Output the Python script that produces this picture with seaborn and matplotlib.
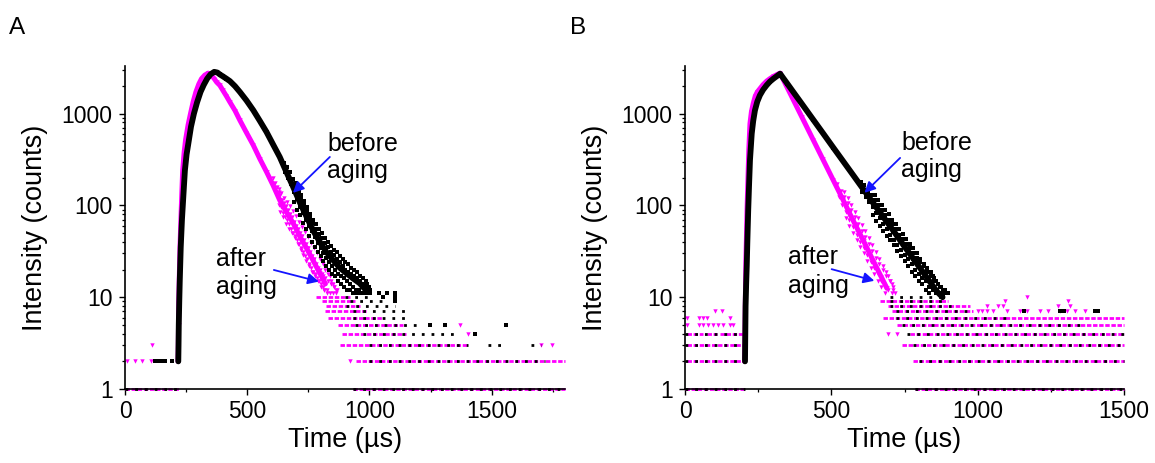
import matplotlib
matplotlib.use("Agg")
import matplotlib.pyplot as plt
import numpy as np
import pandas as pd
import seaborn as sns
from matplotlib.ticker import FixedLocator, MultipleLocator, LogLocator, FuncFormatter, NullFormatter

# ---------------- Panel A data ----------------
a_before_t = [218, 219, 220, 222, 224, 228, 233, 239, 245, 252, 259, 270, 282, 295, 309, 322, 336, 350, 365,
              378, 388, 400, 415, 429, 450, 470, 497, 525, 552, 579, 606, 633, 660, 688, 715, 743, 770, 797,
              824, 851, 878, 906, 933, 960, 985]
a_before_i = [2, 3, 5, 9, 15, 35, 70, 130, 240, 360, 470, 720, 1000, 1330, 1720, 2050, 2400, 2680, 2850,
              2800, 2670, 2550, 2400, 2260, 1990, 1720, 1390, 1086, 830, 630, 460, 337, 232, 159, 108, 75, 53, 40,
              31, 25.4, 21, 18.2, 16, 14.2, 12]
a_before_noise_t = [650, 656, 662, 668, 674, 680, 686, 692, 698, 704, 710, 716, 722, 728, 734, 740, 746, 752,
                    758, 764, 770, 776, 782, 788, 794, 800, 806, 812, 818, 824, 830, 836, 842, 848, 854, 860,
                    866, 872, 878, 884, 890, 896, 902, 908, 914, 920, 926, 932, 938, 944, 950, 956, 962, 968,
                    974, 980, 986, 992, 998, 1004, 1040, 1070, 1104]
a_before_noise_i = [290, 230, 260, 200, 230, 170, 195, 140, 165, 118, 140, 95, 118, 82, 100, 70, 86, 60,
                    75, 52, 65, 45, 56, 39, 49, 34, 44, 30, 39, 27, 35, 24, 31, 22, 29, 20,
                    26, 18, 24, 17, 22, 16, 20, 15, 19, 14, 18, 13, 17, 12, 16, 12, 15, 11,
                    14, 11, 13, 11, 12, 11, 11, 11, 11]
a_before_spread_t = [692, 698, 704, 710, 716, 722, 728, 734, 740, 746, 752,
                     758, 764, 770, 776, 782, 788, 794, 800, 806, 812, 818, 824, 830, 836, 842, 848, 854, 860,
                     866, 872, 878, 884, 890, 896, 902, 908, 914, 920, 926, 932, 938, 944, 950, 956, 962, 968,
                     974, 980, 986, 992, 998, 1004]
a_before_spread_i = [110, 175, 90, 150, 78, 130, 65, 112, 56, 95, 47,
                     80, 40, 70, 35, 62, 31, 55, 28, 50, 25, 44, 22, 40, 20, 36, 18, 33, 17,
                     31, 15, 28, 14, 26, 13, 24, 12, 23, 12, 21, 11, 20, 11, 19, 11, 17, 11,
                     16, 11, 15, 14, 13, 12]
a_before_pts_t = [123, 136, 150, 163, 191, 1247, 1308, 1560, 1430, 1104, 1056, 1104]
a_before_pts_i = [2, 2, 2, 2, 2, 5, 5, 5, 4, 9, 10, 10]
a_before_lvl = [1, 1, 2, 3, 3, 3, 4, 5, 6, 7, 8, 9, 10]
a_before_start = [0, 932, 1000, 1000, 1485, 1662, 975, 940, 933, 933, 906, 920, 900]
a_before_end = [225, 1800, 1720, 1403, 1560, 1703, 1356, 1220, 1172, 1172, 1104, 1056, 1015]

a_after_t = [217, 218, 219, 220, 222, 225, 229, 233, 236, 242, 248, 258, 268, 279, 290, 302, 313, 326, 340,
             352, 365, 375, 388, 400, 415, 429, 450, 470, 497, 525, 552, 579, 606, 633, 660, 688, 715, 743,
             770, 797, 820]
a_after_i = [2, 3, 5, 9, 16, 35, 75, 150, 240, 380, 520, 750, 1000, 1350, 1720, 2100, 2400, 2620, 2760,
             2650, 2400, 2200, 2030, 1800, 1550, 1337, 1080, 845, 620, 452, 320, 232, 165, 114, 85, 64, 46, 34,
             25, 18.2, 14]
a_after_noise_t = [604, 608, 612, 616, 620, 624, 628, 632, 636, 640, 644, 648, 652, 656, 660, 664, 668, 672,
                   676, 680, 684, 688, 692, 696, 700, 704, 708, 712, 716, 720, 724, 728, 732, 736, 740, 744,
                   748, 752, 756, 760, 764, 768, 772, 776, 780, 784, 788, 792, 796, 800, 804, 808, 812, 816,
                   820, 826, 832, 838, 844, 850, 856, 862, 868]
a_after_noise_i = [200, 150, 175, 135, 160, 120, 140, 100, 130, 95, 115, 82, 105, 75, 98, 70, 88, 62,
                   80, 56, 74, 50, 66, 46, 60, 42, 55, 38, 50, 34, 46, 31, 42, 28, 38, 26,
                   34, 23, 31, 21, 28, 19, 26, 18, 23, 16, 21, 15, 20, 14, 18, 13, 17, 12,
                   16, 12, 15, 11, 14, 11, 13, 11, 12]
a_after_spread_t = [628, 634, 640, 646, 652, 658, 664, 670, 676, 682, 688, 694, 700, 706,
                    712, 718, 724, 730, 736, 742, 748, 754, 760, 766, 772, 778, 784, 790, 796, 802, 808, 814,
                    820, 826, 832, 838, 844, 850, 856, 862]
a_after_spread_i = [150, 85, 135, 75, 120, 63, 110, 56, 98, 50, 86, 44, 76, 38,
                    66, 33, 58, 29, 51, 25, 45, 22, 39, 19, 34, 17, 30, 15, 26, 13, 23, 12,
                    20, 11, 18, 17, 15, 14, 13, 12]
a_after_pts_t = [7, 41, 68, 106, 112, 920, 1703, 1747, 1403, 1369]
a_after_pts_i = [2, 2, 2, 2, 3, 2, 3, 3, 4, 5]
a_after_lvl = [1, 1, 2, 3, 4, 5, 6, 7, 8, 9, 10]
a_after_start = [0, 932, 947, 879, 886, 872, 831, 817, 824, 804, 783]
a_after_end = [225, 1800, 1800, 1403, 1151, 1138, 1050, 988, 960, 940, 920]

# ---------------- Panel B data ----------------
b_before_t = [205, 206, 207, 209, 211, 213, 216, 219, 222, 228, 233, 239, 247, 256, 267, 279, 290, 302, 314,
              325, 336, 350, 370, 400, 438, 470, 507, 540, 575, 610, 643, 680, 712, 745, 780, 810, 837, 860, 880]
b_before_i = [2, 4, 8, 14, 22, 40, 89, 170, 311, 605, 830, 1086, 1350, 1585, 1820, 2040, 2230, 2400, 2560,
              2720, 2430, 2110, 1720, 1268, 860, 621, 425, 304, 213, 149, 106, 73, 53, 37.5, 26.3, 19.4, 14.7,
              11.6, 10]
b_before_noise_t = [600, 606, 612, 618, 624, 630, 636, 642, 648, 654, 660, 666, 672, 678, 684, 690, 696, 702,
                    708, 714, 720, 726, 732, 738, 744, 750, 756, 762, 768, 774, 780, 786, 792, 798, 804, 810,
                    816, 822, 828, 834, 840, 846, 852, 858, 864, 870, 876, 882, 890, 900]
b_before_noise_i = [180, 140, 165, 125, 145, 110, 130, 95, 115, 82, 100, 72, 88, 63, 78, 55, 70, 48,
                    62, 42, 55, 37, 48, 33, 43, 29, 38, 26, 34, 23, 30, 20, 27, 18, 24, 16,
                    22, 15, 19, 13, 17, 12, 15, 11, 14, 11, 13, 11, 12, 11]
b_before_spread_t = [642, 648, 654, 660, 666, 672, 678, 684, 690, 696, 702,
                     708, 714, 720, 726, 732, 738, 744, 750, 756, 762, 768, 774, 780, 786, 792, 798, 804, 810,
                     816, 822, 828, 834, 840, 846, 852, 858, 864, 870, 880, 890]
b_before_spread_i = [78, 130, 68, 115, 60, 100, 53, 90, 47, 80, 42,
                     70, 37, 62, 32, 55, 28, 49, 25, 43, 22, 38, 19, 34, 17, 30, 15, 26, 14,
                     23, 12, 21, 11, 19, 17, 16, 15, 14, 13, 12, 11]
b_before_pts_t = [205, 205, 205, 205, 1160, 1280, 1295, 1400, 1410]
b_before_pts_i = [3, 4, 5, 6, 7, 7, 7, 7, 7]
b_before_lvl = [1, 1, 2, 2, 3, 3, 4, 4, 5, 6, 7, 8, 9, 10]
b_before_start = [0, 786, 0, 800, 0, 780, 0, 760, 740, 720, 720, 700, 700, 700]
b_before_end = [205, 1500, 205, 1500, 205, 1500, 205, 1500, 1350, 1100, 985, 930, 900, 880]

b_after_t = [204, 205, 206, 207, 208, 210, 212, 215, 218, 222, 227, 233, 240, 247, 256, 267, 279, 290, 302,
             314, 325, 336, 350, 370, 400, 438, 470, 507, 540, 575, 610, 643, 670, 690]
b_after_i = [2, 4, 8, 14, 25, 45, 90, 190, 400, 778, 1050, 1285, 1550, 1720, 1870, 2070, 2260, 2400, 2540,
             2660, 2760, 2340, 1900, 1415, 908, 518, 323, 187, 115, 68, 41, 25, 16.8, 12.5]
b_after_noise_t = [520, 526, 532, 538, 544, 550, 556, 562, 568, 574, 580, 586, 592, 598, 604, 610, 616, 622,
                   628, 634, 640, 646, 652, 658, 664, 670, 676, 682, 688, 694, 700, 706, 712, 718]
b_after_noise_i = [170, 125, 145, 100, 125, 85, 105, 70, 90, 58, 75, 48, 63, 40, 53, 34, 45, 29,
                   38, 24, 32, 21, 27, 18, 23, 15, 20, 13, 17, 12, 15, 11, 13, 11]
b_after_spread_t = [544, 550, 556, 562, 568, 574, 580, 586, 592, 598, 604, 610, 616, 622,
                    628, 634, 640, 646, 652, 658, 664, 670, 676, 682, 688, 694, 700, 706, 712]
b_after_spread_i = [140, 72, 120, 60, 100, 50, 85, 42, 72, 35, 61, 30, 52, 25,
                    44, 21, 37, 18, 31, 15, 26, 13, 22, 11, 19, 17, 15, 14, 12]
b_after_pts_t = [6, 47, 63, 80, 97, 114, 131, 154, 165, 6, 47, 63, 74, 154, 103, 125,
                 1002, 1014, 1031, 1054, 1099, 1145, 1167, 1213, 1242, 1281, 1304, 1332, 1367,
                 1031, 1071, 1088, 1276, 1315, 1094, 1310, 1167, 695, 723]
b_after_pts_i = [5, 5, 5, 5, 5, 5, 5, 5, 5, 6, 6, 6, 6, 6, 7, 7,
                 7, 7, 7, 7, 7, 7, 7, 7, 7, 7, 7, 7, 7,
                 8, 8, 8, 8, 8, 9, 9, 10, 4, 4]
b_after_lvl = [1, 1, 2, 2, 3, 3, 4, 4, 4, 4, 5, 6, 7, 8, 9]
b_after_start = [0, 786, 6, 780, 6, 740, 6, 75, 120, 769, 723, 678, 706, 695, 666]
b_after_end = [205, 1500, 205, 1500, 205, 1500, 60, 110, 205, 1500, 1500, 1500, 985, 975, 900]

# ---------------- Style ----------------
sns.set_theme(style="ticks")
plt.rcParams["font.family"] = ["Liberation Sans", "DejaVu Sans"]
BLACK = "#000000"
MAGENTA = "#ff00ff"
BLUE = "#1414ff"

fig = plt.figure(figsize=(11.55, 4.63), dpi=100)
W, H = 1155, 463


def add_ax(left, right, top, bottom):
    return fig.add_axes([left / W, 1 - bottom / H, (right - left) / W, (bottom - top) / H])


def draw_series(ax, t, i, nt, ni, pt, pi, lvl, st, en, color, marker, ms, lw_body, seg_style, seg_z):
    df = pd.DataFrame({"t": t, "i": i})
    sns.lineplot(data=df, x="t", y="i", ax=ax, color=color, lw=lw_body, sort=False, estimator=None,
                 zorder=seg_z)
    sns.scatterplot(data=df, x="t", y="i", ax=ax, color=color, marker=marker, s=ms, linewidth=0,
                    zorder=seg_z)
    dn = pd.DataFrame({"t": nt, "i": ni})
    sns.scatterplot(data=dn, x="t", y="i", ax=ax, color=color, marker=marker, s=ms, linewidth=0,
                    zorder=seg_z)
    dp = pd.DataFrame({"t": pt, "i": pi})
    sns.scatterplot(data=dp, x="t", y="i", ax=ax, color=color, marker=marker, s=ms, linewidth=0,
                    zorder=seg_z, clip_on=False)
    ax.hlines(lvl, st, en, colors=color, linewidth=2.0, linestyles=seg_style, zorder=seg_z, clip_on=False)


def style_ax(ax, xmax):
    ax.set_yscale("log")
    ax.set_xlim(0, xmax)
    ax.set_ylim(1, 3300)
    ax.xaxis.set_major_locator(MultipleLocator(500))
    ax.xaxis.set_minor_locator(MultipleLocator(250))
    ax.yaxis.set_major_locator(FixedLocator([1, 10, 100, 1000]))
    ax.yaxis.set_minor_locator(LogLocator(base=10, subs=(2, 3, 4, 5, 6, 7, 8, 9)))
    ax.yaxis.set_major_formatter(FuncFormatter(lambda v, p: "%d" % v))
    ax.yaxis.set_minor_formatter(NullFormatter())
    ax.tick_params(axis="both", which="major", direction="out", length=4, width=1.0, labelsize=16.5,
                   pad=4, color="black", labelcolor="black")
    ax.tick_params(axis="both", which="minor", direction="out", length=2.5, width=0.9, color="black")
    ax.tick_params(axis="y", which="major", pad=5)
    for s in ["top", "right"]:
        ax.spines[s].set_visible(False)
    for s in ["left", "bottom"]:
        ax.spines[s].set_linewidth(1.2)
        ax.spines[s].set_color("black")
    ax.set_xlabel("Time (µs)", fontsize=19.5, labelpad=3, color="black")
    ax.set_ylabel("Intensity (counts)", fontsize=19.5, labelpad=10, color="black")


def arrow(ax, tip, tail):
    ax.annotate("", xy=tip, xytext=tail,
                arrowprops=dict(arrowstyle="-|>", color=BLUE, lw=1.3, mutation_scale=16,
                                shrinkA=0, shrinkB=0))


# Panel A
axA = add_ax(125, 565, 66, 389)
draw_series(axA, a_before_t, a_before_i, a_before_noise_t + a_before_spread_t,
            a_before_noise_i + a_before_spread_i, a_before_pts_t, a_before_pts_i,
            a_before_lvl, a_before_start, a_before_end, BLACK, "s", 6, 4.2, (0, (1.0, 2.5)), 3)
draw_series(axA, a_after_t, a_after_i, a_after_noise_t + a_after_spread_t,
            a_after_noise_i + a_after_spread_i, a_after_pts_t, a_after_pts_i,
            a_after_lvl, a_after_start, a_after_end, MAGENTA, "v", 10, 3.6, (0, (1.6, 0.6)), 2)
style_ax(axA, 1800)
axA.text(828, 392, "before", fontsize=18, va="baseline", ha="left", color="black")
axA.text(828, 200, "aging", fontsize=18, va="baseline", ha="left", color="black")
axA.text(371, 22.1, "after", fontsize=18, va="baseline", ha="left", color="black")
axA.text(371, 10.8, "aging", fontsize=18, va="baseline", ha="left", color="black")
arrow(axA, (687, 137), (838, 337))
arrow(axA, (793, 14.8), (609, 19.8))

# Panel B
axB = add_ax(685, 1124, 66, 389)
draw_series(axB, b_before_t, b_before_i, b_before_noise_t + b_before_spread_t,
            b_before_noise_i + b_before_spread_i, b_before_pts_t, b_before_pts_i,
            b_before_lvl, b_before_start, b_before_end, BLACK, "s", 6, 4.2, (0, (1.0, 2.5)), 3)
draw_series(axB, b_after_t, b_after_i, b_after_noise_t + b_after_spread_t,
            b_after_noise_i + b_after_spread_i, b_after_pts_t, b_after_pts_i,
            b_after_lvl, b_after_start, b_after_end, MAGENTA, "v", 10, 3.6, (0, (1.6, 0.6)), 2)
style_ax(axB, 1500)
axB.text(738, 399, "before", fontsize=18, va="baseline", ha="left", color="black")
axB.text(738, 203, "aging", fontsize=18, va="baseline", ha="left", color="black")
axB.text(351, 23.0, "after", fontsize=18, va="baseline", ha="left", color="black")
axB.text(351, 11.05, "aging", fontsize=18, va="baseline", ha="left", color="black")
arrow(axB, (613, 137), (735, 329))
arrow(axB, (647, 15.1), (501, 20.2))

fig.text(9 / W, 1 - 34 / H, "A", fontsize=17.5, va="baseline", ha="left", color="black")
fig.text(570 / W, 1 - 34 / H, "B", fontsize=17.5, va="baseline", ha="left", color="black")

fig.savefig("out.png", dpi=100, facecolor="white")
